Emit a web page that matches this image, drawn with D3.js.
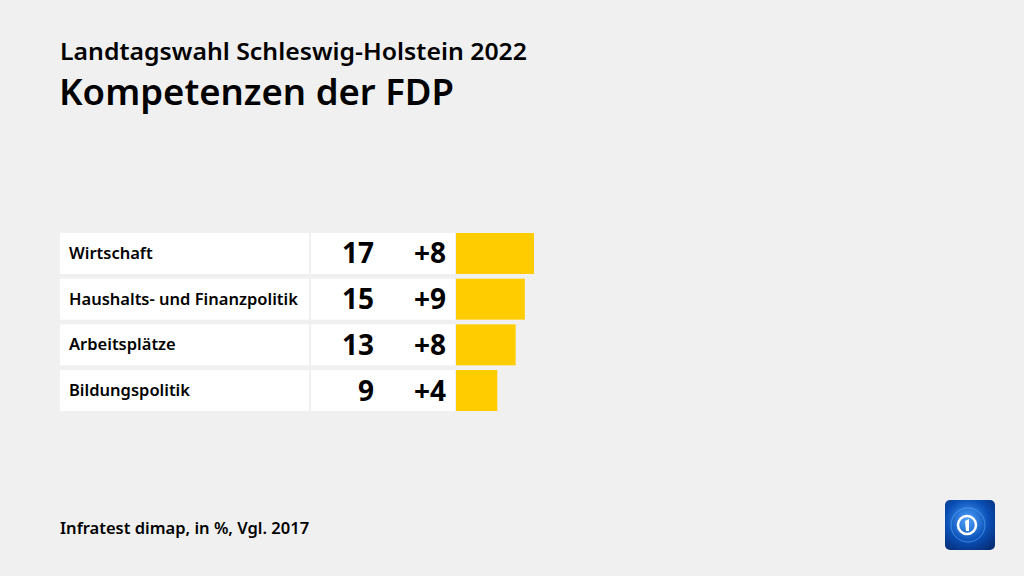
<!DOCTYPE html>
<html><head><meta charset="utf-8">
<script src="https://cdn.jsdelivr.net/npm/d3@7"></script>
<style>
body{margin:0;background:#f0f0f0;}
svg{display:block;font-family:"Noto Sans",sans-serif;}
</style></head>
<body>
<svg id="c" width="1024" height="576"></svg>
<script>
const categories = ["Wirtschaft","Haushalts- und Finanzpolitik","Arbeitsplätze","Bildungspolitik"];
const values = [17,15,13,9];
const changes = ["+8","+9","+8","+4"];
const title = "Landtagswahl Schleswig-Holstein 2022";
const subtitle = "Kompetenzen der FDP";
const source = "Infratest dimap, in %, Vgl. 2017";

const svg = d3.select("#c");
svg.append("rect").attr("width",1024).attr("height",576).attr("fill","#f0f0f0");

svg.append("text").attr("x",60).attr("y",60).attr("font-size",22.5).attr("font-weight",600)
  .attr("textLength",467).attr("lengthAdjust","spacingAndGlyphs")
  .attr("fill","#000").text(title);
svg.append("text").attr("x",59).attr("y",105).attr("font-size",36.5).attr("font-weight",600)
  .attr("fill","#000").text(subtitle);
svg.append("text").attr("x",60).attr("y",534).attr("font-size",16.5).attr("font-weight",600)
  .attr("fill","#000").text(source);

const y = d3.scaleBand().domain(categories).range([233,411]).paddingInner(0.103).paddingOuter(0);
const x = d3.scaleLinear().domain([0,17]).range([456,534]);

const rows = svg.append("g").selectAll("g").data(categories).join("g");
rows.append("rect").attr("x",60).attr("width",249).attr("y",d=>y(d)).attr("height",y.bandwidth()).attr("fill","#fff");
rows.append("rect").attr("x",311).attr("width",144).attr("y",d=>y(d)).attr("height",y.bandwidth()).attr("fill","#fff");
rows.append("rect").attr("x",x(0)).attr("y",d=>y(d)).attr("height",y.bandwidth())
  .attr("width",(d,i)=>x(values[i])-x(0)).attr("fill","#ffcc00");
rows.append("text").attr("x",69).attr("y",d=>y(d)+y.bandwidth()/2+5.5).attr("font-size",16.5)
  .attr("font-weight",600).attr("fill","#000").text(d=>d);
rows.append("text").attr("x",374).attr("y",d=>y(d)+y.bandwidth()/2+10).attr("font-size",28)
  .attr("font-weight",700).attr("text-anchor","end").attr("fill","#000").text((d,i)=>values[i]);
rows.append("text").attr("x",446).attr("y",d=>y(d)+y.bandwidth()/2+10).attr("font-size",28)
  .attr("font-weight",700).attr("text-anchor","end").attr("fill","#000").text((d,i)=>changes[i]);

// logo
const lg = svg.append("g").attr("transform","translate(945,500)");
const defs = svg.append("defs");
const grad = defs.append("radialGradient").attr("id","lgG").attr("cx","45%").attr("cy","40%").attr("r","70%");
grad.append("stop").attr("offset","0%").attr("stop-color","#4fa3ff");
grad.append("stop").attr("offset","60%").attr("stop-color","#0a4fb5");
grad.append("stop").attr("offset","100%").attr("stop-color","#062f7a");
lg.append("rect").attr("width",50).attr("height",50).attr("rx",5).attr("fill","url(#lgG)");
lg.append("circle").attr("cx",23).attr("cy",25).attr("r",17).attr("fill","none").attr("stroke","#5fb0ff").attr("stroke-width",1).attr("opacity",0.6);
lg.append("circle").attr("cx",22).attr("cy",25).attr("r",9).attr("fill","none").attr("stroke","#fff").attr("stroke-width",2.5);
lg.append("path").attr("d","M20 21 L24 19 L24 31 L21 31 Z").attr("fill","#fff");
</script>
</body></html>
